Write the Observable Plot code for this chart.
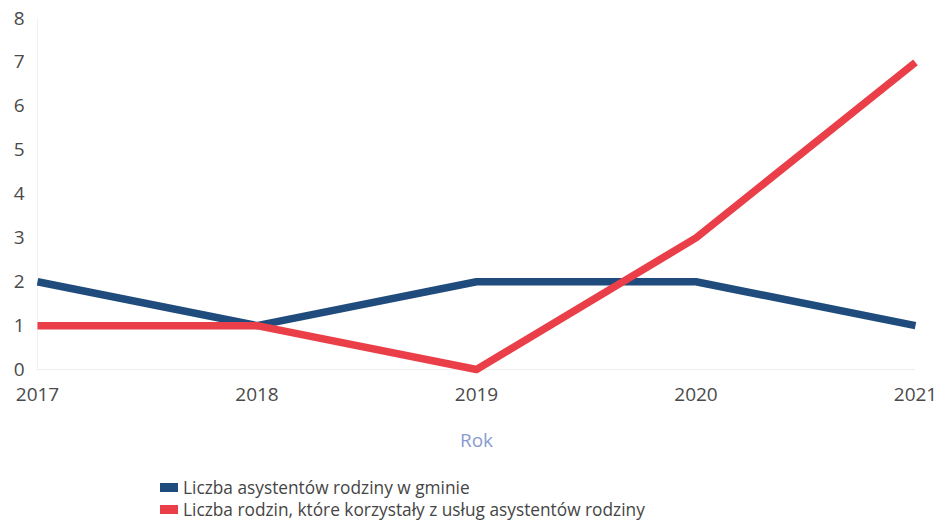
<!DOCTYPE html>
<html>
<head>
<meta charset="utf-8">
<script src="https://cdn.jsdelivr.net/npm/d3@7"></script>
<script src="https://cdn.jsdelivr.net/npm/@observablehq/plot@0.6"></script>
<style>
  body { margin: 0; background: #fff; font-family: "Open Sans", sans-serif; }
  #legend { padding-left: 160px; font-size: 17.3px; color: #454545; }
  .row { display: flex; align-items: center; height: 22px; }
  .sw { width: 18px; height: 9px; margin-right: 5px; }
</style>
</head>
<body>
<div id="chart"></div>
<div id="legend"></div>
<script>
const years = [2017, 2018, 2019, 2020, 2021];
const asystenci = [2, 1, 2, 2, 1];
const rodziny = [1, 1, 0, 3, 7];
const seriesNames = ["Liczba asystentów rodziny w gminie", "Liczba rodzin, które korzystały z usług asystentów rodziny"];
const seriesColors = ["#1f4c7c", "#ea3e48"];
const yTicks = [0, 1, 2, 3, 4, 5, 6, 7, 8];
const xLabel = "Rok";

const data = [];
years.forEach((y, i) => {
  data.push({year: y, value: asystenci[i], series: seriesNames[0]});
});
years.forEach((y, i) => {
  data.push({year: y, value: rodziny[i], series: seriesNames[1]});
});

const chart = Plot.plot({
  width: 942,
  height: 476,
  marginLeft: 37,
  marginRight: 27,
  marginTop: 18,
  marginBottom: 107,
  style: {fontFamily: "Open Sans", fontSize: "19px", color: "#4a4a4a", background: "#fff"},
  x: {domain: [2017, 2021]},
  y: {domain: [0, 8]},
  color: {domain: seriesNames, range: seriesColors},
  marks: [
    Plot.ruleY([0], {stroke: "#eeeeee", strokeWidth: 1}),
    Plot.ruleX([2017], {stroke: "#f2f2f2", strokeWidth: 1}),
    Plot.axisY({ticks: yTicks, tickSize: 0, tickPadding: 13, label: null, fontSize: 19}),
    Plot.axisX({ticks: years, tickFormat: d => String(d), tickSize: 0, tickPadding: 18, label: null, fontSize: 19}),
    Plot.line(data, {x: "year", y: "value", stroke: "series", z: "series", strokeWidth: 7.5, strokeLinejoin: "round", strokeLinecap: "butt"}),
    Plot.text([xLabel], {frameAnchor: "bottom", dy: 77, fill: "#8a9ccf", fontSize: 19})
  ]
});
document.getElementById("chart").appendChild(chart);

const legend = document.getElementById("legend");
seriesNames.forEach((name, i) => {
  const row = document.createElement("div");
  row.className = "row";
  const sw = document.createElement("span");
  sw.className = "sw";
  sw.style.background = seriesColors[i];
  const t = document.createElement("span");
  t.textContent = name;
  row.appendChild(sw);
  row.appendChild(t);
  legend.appendChild(row);
});
</script>
</body>
</html>
